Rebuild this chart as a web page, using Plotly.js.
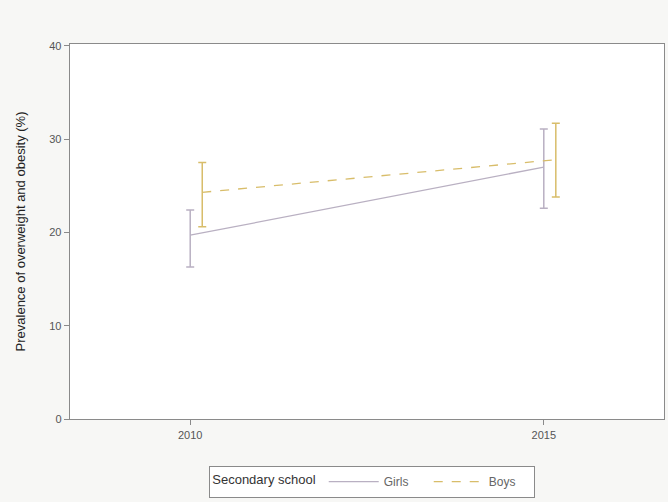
<!DOCTYPE html>
<html>
<head>
<meta charset="utf-8">
<script src="https://cdn.plot.ly/plotly-3.0.1.min.js"></script>
<style>html,body{margin:0;padding:0;background:#f7f7f5;}#chart{width:668px;height:502px;}</style>
</head>
<body>
<div id="chart"></div>
<script>
const years = [2010, 2015];
const tickLabels = ["2010", "2015"];
const girlsValue = [19.7, 27.0];
const girlsUpper = [22.4, 31.1];
const girlsLower = [16.3, 22.6];
const boysValue = [24.3, 27.8];
const boysUpper = [27.5, 31.7];
const boysLower = [20.6, 23.8];

const boysDodge = 0.17;
const girlsColor = "#b9b0c2";
const boysColor = "#d8bd6a";

function diff(a, b) { return a.map((v, i) => +(v - b[i]).toFixed(3)); }

const traces = [
  {
    name: "Girls", x: years, y: girlsValue, type: "scatter", mode: "lines",
    line: {color: girlsColor, width: 1.3},
    error_y: {type: "data", symmetric: false, array: diff(girlsUpper, girlsValue),
      arrayminus: diff(girlsValue, girlsLower), color: girlsColor, thickness: 1.5, width: 4}
  },
  {
    name: "Boys", x: years.map(v => v + boysDodge), y: boysValue, type: "scatter", mode: "lines",
    line: {color: boysColor, width: 1.3, dash: "dash"},
    error_y: {type: "data", symmetric: false, array: diff(boysUpper, boysValue),
      arrayminus: diff(boysValue, boysLower), color: boysColor, thickness: 1.5, width: 4}
  }
];

const axisFont = {family: "Liberation Sans, Arial, sans-serif", size: 11, color: "#555"};
const layout = {
  width: 668, height: 502,
  margin: {l: 70, r: 4, t: 44, b: 83},
  paper_bgcolor: "#f7f7f5",
  plot_bgcolor: "#ffffff",
  showlegend: true,
  xaxis: {
    range: [2008.3, 2016.7], tickvals: years, ticktext: tickLabels,
    showgrid: false, zeroline: false, showline: true, linecolor: "#8a8a8a", linewidth: 1.3,
    mirror: true, ticks: "outside", ticklen: 5, tickcolor: "#8a8a8a",
    tickfont: axisFont
  },
  yaxis: {
    range: [0, 40.2], tickvals: [0, 10, 20, 30, 40],
    showgrid: false, zeroline: false, showline: true, linecolor: "#8a8a8a", linewidth: 1.3,
    mirror: true, ticks: "outside", ticklen: 5, tickcolor: "#8a8a8a",
    tickfont: axisFont,
    title: {text: "Prevalence of overweight and obesity (%)", standoff: 20,
      font: {family: "Liberation Sans, Arial, sans-serif", size: 13, color: "#222"}}
  },
  legend: {
    orientation: "h", xref: "container", yref: "container",
    x: 0.557, xanchor: "center", y: 0.008, yanchor: "bottom",
    bgcolor: "#ffffff", bordercolor: "#8a8a8a", borderwidth: 1.2,
    font: {family: "Liberation Sans, Arial, sans-serif", size: 12, color: "#666"},
    title: {text: "Secondary school", side: "left",
      font: {family: "Liberation Sans, Arial, sans-serif", size: 13, color: "#333"}},
    itemwidth: 50, entrywidth: 40, entrywidthmode: "pixels"
  }
};

Plotly.newPlot("chart", traces, layout, {displayModeBar: false, staticPlot: true});
</script>
</body>
</html>
